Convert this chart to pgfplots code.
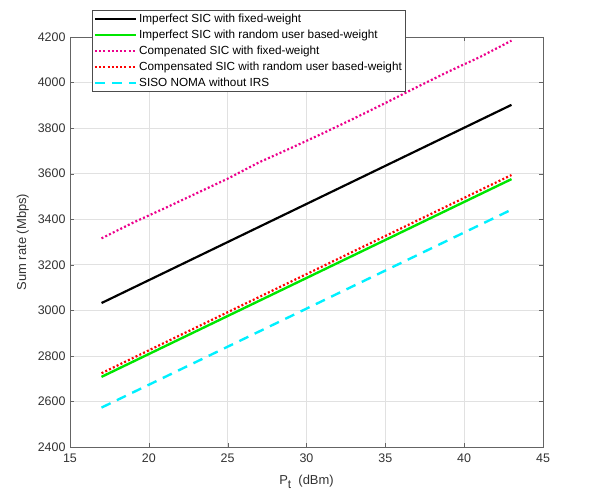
\documentclass[border=0pt]{standalone}
\usepackage{pgfplots}
\pgfplotsset{compat=1.18}
\usepackage{fontspec}
\setmainfont{Liberation Sans}
\definecolor{axgray}{RGB}{100,100,100}
\definecolor{txtgray}{RGB}{50,50,50}
\definecolor{gridc}{RGB}{225,225,225}
\definecolor{lgreen}{RGB}{0,230,0}
\definecolor{lcyan}{RGB}{0,240,255}
\begin{document}
\begin{tikzpicture}
\begin{axis}[
  scale only axis,
  width=473bp, height=410bp,
  xmin=15, xmax=45, ymin=2400, ymax=4200,
  xtick={15,20,...,45},
  ytick={2400,2600,...,4200},
  grid=major,
  major grid style={gridc, line width=0.6pt},
  axis line style={axgray, line width=0.8pt},
  tick style={axgray},
  tick align=inside,
  major tick length=4bp,
  ticklabel style={font=\fontsize{12.5}{14}\selectfont, text=txtgray},
  xticklabel style={yshift=-3bp},
  yticklabel style={xshift=-1bp},
  /pgf/number format/assume math mode=true,
  /pgf/number format/1000 sep={},
  xlabel={P\raisebox{-0.55ex}{\fontsize{12}{14}\selectfont t}\ \ (dBm)},
  ylabel={Sum rate (Mbps)},
  label style={font=\fontsize{13}{15}\selectfont, text=txtgray},
  xlabel style={yshift=-6bp},
  ylabel style={yshift=2bp},
  legend cell align=left,
  legend style={at={(axis description cs:0.0465,1.066)}, anchor=north west,
    draw=black!70, line width=0.6pt, font=\fontsize{11.8}{13}\selectfont,
    inner sep=1.5bp, row sep=2bp},
  legend image code/.code={\draw[#1] (-3bp,0bp) -- (38bp,0bp);},
]
\addplot[black, line width=2.2pt] coordinates {(17,3032) (43,3902)};
\addlegendentry{Imperfect SIC with fixed-weight}
\addplot[lgreen, line width=2.4pt] coordinates {(17,2708) (43,3576)};
\addlegendentry{Imperfect SIC with random user based-weight}
\addplot[magenta, line width=2.2pt, dash pattern=on 2bp off 2.2bp] coordinates {(17,3316) (19,3385) (21,3448) (23,3513) (25,3578) (27,3650) (29,3712) (31,3776) (33,3842) (35,3910) (37,3980) (39,4048) (41,4112) (43,4184)};
\addlegendentry{Compenated SIC with fixed-weight}
\addplot[red, line width=2.2pt, dash pattern=on 2bp off 2.2bp] coordinates {(17,2724) (43,3594)};
\addlegendentry{Compensated SIC with random user based-weight}
\addplot[lcyan, line width=2.4pt, dash pattern=on 10bp off 7bp] coordinates {(17,2573) (43,3442)};
\addlegendentry{SISO NOMA without IRS}
\end{axis}
\pgfresetboundingbox
\path (-70bp,-57bp) rectangle (529bp,447bp);
\end{tikzpicture}
\end{document}
